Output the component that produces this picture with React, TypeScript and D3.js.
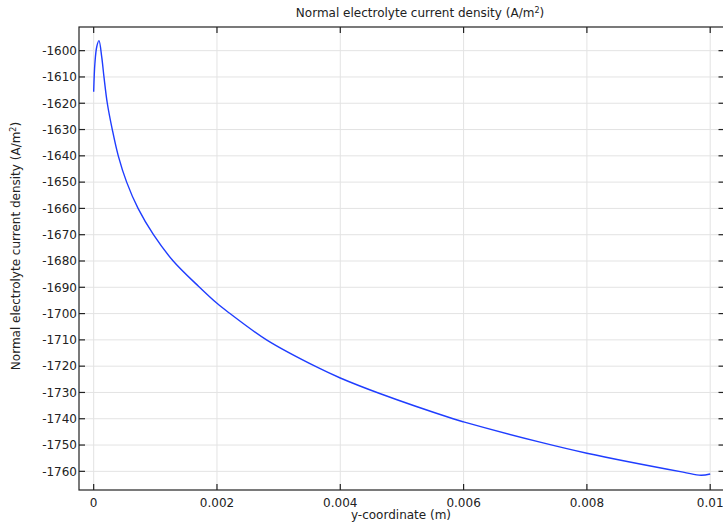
import React from "react";
import * as d3 from "d3";

// y-coordinate (m)
const yCoord = [
  0, 0.00002, 0.00005, 0.000086, 0.00013, 0.000167, 0.000221, 0.000302,
  0.000399, 0.000535, 0.00072, 0.00097, 0.00129, 0.0017, 0.002, 0.0022,
  0.00281, 0.00364, 0.004, 0.00464, 0.00583, 0.006, 0.00724, 0.008, 0.00956,
  0.00985, 0.01,
];
// Normal electrolyte current density (A/m^2)
const currentDensity = [
  -1615.6, -1604.8, -1598.5, -1596.2, -1602.3, -1610, -1620, -1630, -1640,
  -1650, -1660, -1670, -1680, -1689.6, -1696.1, -1699.8, -1710.1, -1720.6,
  -1724.5, -1730.4, -1740, -1741.2, -1748.9, -1753.1, -1760.3, -1761.5,
  -1761.0,
];
const xTicks = [0, 0.002, 0.004, 0.006, 0.008, 0.01];
const xTickLabels = ["0", "0.002", "0.004", "0.006", "0.008", "0.01"];
const yTicks = [
  -1600, -1610, -1620, -1630, -1640, -1650, -1660, -1670, -1680, -1690, -1700,
  -1710, -1720, -1730, -1740, -1750, -1760,
];

const W = 723;
const H = 526;
const left = 79;
const right = 724.5;
const top = 27;
const bottom = 490;
const font = "'DejaVu Sans', sans-serif";

export default function App() {
  const x = d3
    .scaleLinear()
    .domain([-0.000238, 0.010232])
    .range([left, right]);
  const y = d3.scaleLinear().domain([-1767.1, -1591]).range([bottom, top]);

  const pts = yCoord.map((v, i) => [v, currentDensity[i]] as [number, number]);
  const line = d3
    .line<[number, number]>()
    .x((d) => x(d[0]))
    .y((d) => y(d[1]))
    .curve(d3.curveCatmullRom.alpha(0.5));

  return (
    <div style={{ position: "absolute", left: 0, top: 0 }}>
      <svg width={W} height={H} style={{ display: "block", background: "#fff" }}>
        {/* grid */}
        {xTicks.map((t) => (
          <line key={"gx" + t} x1={x(t)} x2={x(t)} y1={top} y2={bottom} stroke="#e3e3e3" strokeWidth={1} />
        ))}
        {yTicks.map((t) => (
          <line key={"gy" + t} x1={left} x2={right} y1={y(t)} y2={y(t)} stroke="#e3e3e3" strokeWidth={1} />
        ))}

        {/* data */}
        <path d={line(pts) || ""} fill="none" stroke="#1f3dff" strokeWidth={1.4} />

        {/* frame */}
        <rect x={left} y={top} width={right - left} height={bottom - top} fill="none" stroke="#222" strokeWidth={1.2} />

        {/* ticks */}
        {xTicks.map((t) => (
          <g key={"tx" + t}>
            <line x1={x(t)} x2={x(t)} y1={bottom} y2={bottom - 6} stroke="#222" strokeWidth={1.2} />
            <line x1={x(t)} x2={x(t)} y1={top} y2={top + 6} stroke="#222" strokeWidth={1.2} />
          </g>
        ))}
        {yTicks.map((t) => (
          <g key={"ty" + t}>
            <line x1={left} x2={left + 6} y1={y(t)} y2={y(t)} stroke="#222" strokeWidth={1.2} />
            <line x1={right} x2={right - 6} y1={y(t)} y2={y(t)} stroke="#222" strokeWidth={1.2} />
          </g>
        ))}

        {/* tick labels */}
        {xTicks.map((t, i) => (
          <text key={"lx" + t} x={x(t)} y={507} textAnchor="middle" fontFamily={font} fontSize={12} fill="#222">
            {xTickLabels[i]}
          </text>
        ))}
        {yTicks.map((t) => (
          <text key={"ly" + t} x={77} y={y(t) + 4.3} textAnchor="end" fontFamily={font} fontSize={12} fill="#222">
            {String(t)}
          </text>
        ))}

        {/* titles */}
        <text x={420} y={17} textAnchor="middle" fontFamily={font} fontSize={12} fill="#222">
          Normal electrolyte current density (A/m<tspan dy={-4} fontSize={8}>2</tspan><tspan dy={4}>)</tspan>
        </text>
        <text x={401} y={519} textAnchor="middle" fontFamily={font} fontSize={12} fill="#222">
          y-coordinate (m)
        </text>
        <text
          transform={`translate(19.5,246) rotate(-90)`}
          textAnchor="middle"
          fontFamily={font}
          fontSize={12}
          fill="#222"
        >
          Normal electrolyte current density (A/m<tspan dy={-4} fontSize={8}>2</tspan><tspan dy={4}>)</tspan>
        </text>
      </svg>
    </div>
  );
}
